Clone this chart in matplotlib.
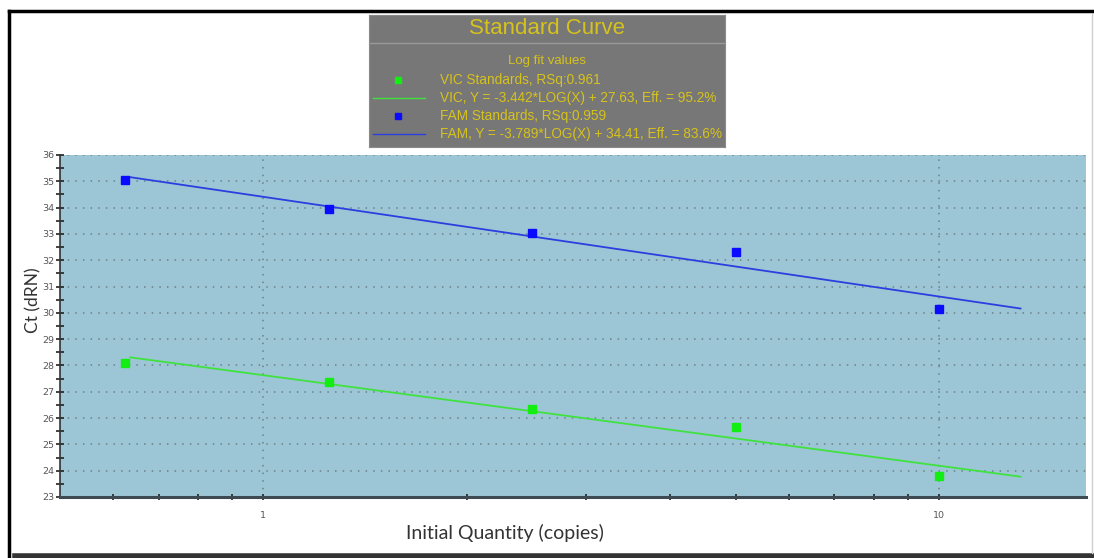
"""
Standard Curve: Ct vs initial quantity (VIC / FAM)
"""
import numpy as np
import matplotlib
matplotlib.use('Agg')
import matplotlib.pyplot as plt
from matplotlib.ticker import FixedLocator, NullFormatter, FixedFormatter, MultipleLocator

# Data
quantities = [0.625, 1.25, 2.5, 5, 10]
fam_ct = [35.05, 33.95, 33.05, 32.32, 30.16]
vic_ct = [28.10, 27.38, 26.35, 25.67, 23.80]

# fit parameters from the legend
fam_slope, fam_icept = -3.789, 34.41
vic_slope, vic_icept = -3.442, 27.63
fit_range = [0.635, 13.2]

legend_lines = [
    'VIC Standards, RSq:0.961',
    'VIC, Y = -3.442*LOG(X) + 27.63, Eff. = 95.2%',
    'FAM Standards, RSq:0.959',
    'FAM, Y = -3.789*LOG(X) + 34.41, Eff. = 83.6%',
]

fam_color = '#0a0aff'
fam_line = '#2b3fe0'
vic_color = '#12ee12'
vic_line = '#3fe23f'
txt_yellow = '#d6c21c'

fig = plt.figure(figsize=(10.94, 5.58), dpi=100)
fig.patch.set_facecolor('white')

# main plot
ax = fig.add_axes([60 / 1094, 61 / 558, 1026 / 1094, 342 / 558])
ax.set_facecolor('#9cc6d6')
ax.set_xscale('log')
ax.set_xlim(0.5, 16.5)
ax.set_ylim(23, 36)

xfit = np.logspace(np.log10(fit_range[0]), np.log10(fit_range[1]), 50)
ax.plot(xfit, fam_slope * np.log10(xfit) + fam_icept, color=fam_line, lw=1.3, zorder=3)
ax.plot(xfit, vic_slope * np.log10(xfit) + vic_icept, color=vic_line, lw=1.3, zorder=3)
ax.plot(quantities, fam_ct, 's', color=fam_color, ms=6.3, mec=fam_color, zorder=4, clip_on=False)
ax.plot(quantities, vic_ct, 's', color=vic_color, ms=6.3, mec=vic_color, zorder=4, clip_on=False)

# ticks
ax.yaxis.set_major_locator(MultipleLocator(1))
ax.yaxis.set_minor_locator(MultipleLocator(0.5))
ax.xaxis.set_major_locator(FixedLocator([1, 10]))
ax.xaxis.set_major_formatter(FixedFormatter(['1', '10']))
ax.xaxis.set_minor_locator(FixedLocator([0.6, 0.7, 0.8, 0.9, 2, 3, 4, 5, 6, 7, 8, 9]))
ax.xaxis.set_minor_formatter(NullFormatter())
ax.tick_params(axis='y', which='both', direction='inout', length=6, width=1.2,
               color='#222222', labelsize=6.8, labelcolor='#555555', pad=1)
ax.tick_params(axis='x', which='both', direction='inout', length=4, width=1.2,
               color='#222222', labelsize=6.8, labelcolor='#555555', pad=8)

ax.grid(True, which='major', color='#6f7f86', linestyle=(0, (1, 4)), linewidth=1.1)

for side in ['top', 'right']:
    ax.spines[side].set_visible(False)
ax.spines['left'].set_color('#333333')
ax.spines['left'].set_linewidth(1.2)
ax.spines['bottom'].set_color('#3d4a52')
ax.spines['bottom'].set_linewidth(2.2)

ax.set_ylabel('Ct (dRN)', fontsize=12.5, family='Lato', color='#333333', labelpad=2)
ax.yaxis.set_label_coords(-0.018, 0.576)
ax.set_xlabel('Initial Quantity (copies)', fontsize=14, family='Lato', color='#333333')
ax.xaxis.set_label_coords(0.434, -0.08)

# legend box drawn as a small axes
lg = fig.add_axes([369 / 1094, 411 / 558, 356 / 1094, 132 / 558])
lg.set_xlim(0, 356)
lg.set_ylim(132, 0)
lg.set_facecolor('#777777')
for s in lg.spines.values():
    s.set_color('#8a8a8a')
    s.set_linewidth(0.8)
lg.set_xticks([])
lg.set_yticks([])
lg.axhline(28, color='#9a9a9a', lw=1)
lg.text(178, 13, 'Standard Curve', color=txt_yellow, fontsize=16,
        ha='center', va='center', family='Liberation Sans')
lg.text(178, 46, 'Log fit values', color=txt_yellow, fontsize=9.5,
        ha='center', va='center', family='Liberation Sans')
row_y = [65, 83, 101, 119]
for y, t in zip(row_y, legend_lines):
    lg.text(71, y, t, color=txt_yellow, fontsize=9.8, ha='left', va='center',
            family='Liberation Sans')
lg.plot([29], [row_y[0]], 's', color=vic_color, ms=5)
lg.plot([4, 56], [row_y[1], row_y[1]], color=vic_line, lw=1)
lg.plot([29], [row_y[2]], 's', color=fam_color, ms=5)
lg.plot([4, 56], [row_y[3], row_y[3]], color=fam_line, lw=1)

# outer frame
frame = fig.add_axes([0, 0, 1, 1], zorder=-1)
frame.set_xlim(0, 1094)
frame.set_ylim(558, 0)
frame.axis('off')
frame.plot([9, 1094], [11, 11], color='black', lw=2.5)
frame.plot([9, 9], [11, 558], color='black', lw=2.5)
frame.plot([15, 1094], [556, 556], color='#333333', lw=4)
frame.plot([1092, 1092], [14, 553], color='#cfcfcf', lw=1)

fig.savefig('out.png', dpi=100)
